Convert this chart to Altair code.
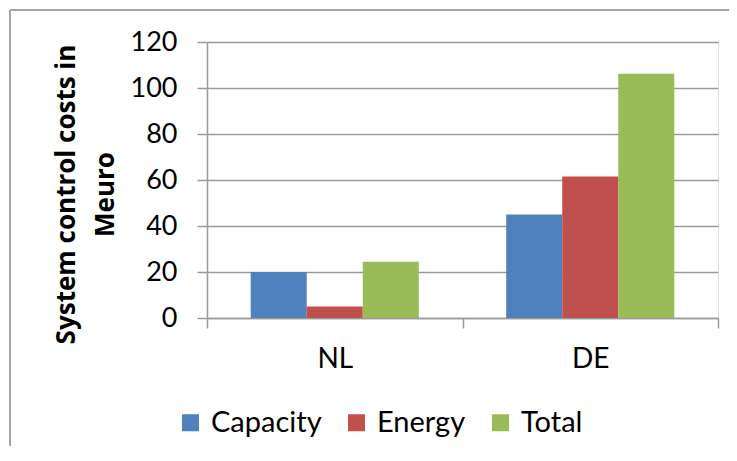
import altair as alt
import pandas as pd

categories = ["NL", "DE"]
series = ["Capacity", "Energy", "Total"]
capacity = [20, 45]
energy = [5, 61.5]
total = [24.5, 106.2]
colors = ["#4F81BD", "#C0504D", "#9BBB59"]
y_ticks = [0, 20, 40, 60, 80, 100, 120]

rows = []
for i, c in enumerate(categories):
    for s, vals in zip(series, [capacity, energy, total]):
        rows.append({"country": c, "series": s, "value": vals[i]})
df = pd.DataFrame(rows)

FONT = "Lato"
TFONT = "Open Sans"
GRID = "#9a9a9a"

bars = alt.Chart(df).mark_bar().encode(
    x=alt.X(
        "country:N",
        sort=categories,
        scale=alt.Scale(paddingInner=0, paddingOuter=0),
        axis=alt.Axis(
            title=None, labelAngle=0, tickBand="extent", grid=False,
            domainColor=GRID, domainWidth=1.5, tickColor=GRID, tickWidth=1.5,
            tickSize=10, labelFont=FONT, labelFontSize=28, labelColor="#000000",
            labelPadding=17,
        ),
    ),
    xOffset=alt.XOffset("series:N", sort=series,
                        scale=alt.Scale(paddingInner=0, paddingOuter=0.78)),
    y=alt.Y(
        "value:Q",
        scale=alt.Scale(domain=[0, 120], nice=False),
        axis=alt.Axis(
            values=y_ticks, title=["System control costs in", "Meuro"],
            titleFont=TFONT, titleFontSize=26, titleFontWeight="bold",
            titleColor="#000000", titleAngle=270, titleAlign="center",
            titleBaseline="alphabetic", titleX=-133, titleY=152,
            titleLineHeight=39,
            grid=True, gridColor=GRID, gridWidth=1.5,
            domainColor=GRID, domainWidth=1.5, tickColor=GRID, tickWidth=1.5,
            tickSize=10, labelFont=FONT, labelFontSize=27, labelColor="#000000",
            labelPadding=20,
        ),
    ),
    color=alt.Color(
        "series:N", sort=series,
        scale=alt.Scale(domain=series, range=colors),
        legend=alt.Legend(
            title=None, orient="none", direction="horizontal",
            legendX=-31, legendY=366, symbolType="square", symbolSize=289,
            symbolStrokeWidth=0, labelFont=FONT, labelFontSize=29,
            labelColor="#000000", labelOffset=6, columnPadding=20,
        ),
    ),
)

frame = pd.DataFrame({"a": [0]})
top_line = alt.Chart(frame).mark_rule(color="#a6a6a6", strokeWidth=2).encode(
    x=alt.value(-197), x2=alt.value(522), y=alt.value(-32)
)
left_line = alt.Chart(frame).mark_rule(color="#a6a6a6", strokeWidth=2).encode(
    x=alt.value(-197), y=alt.value(-32), y2=alt.value(404)
)

chart = alt.layer(top_line, left_line, bars).properties(
    width=511, height=276,
    autosize=alt.AutoSizeParams(type="none"),
    padding={"left": 199, "top": 34, "right": 11, "bottom": 128},
).configure_view(stroke=None).configure(background="white")

chart.save("out.html", embed_options={"renderer": "svg", "actions": False})
